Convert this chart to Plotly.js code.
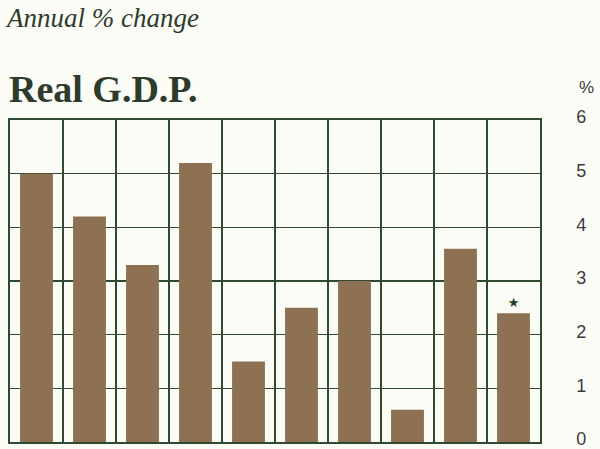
<!DOCTYPE html>
<html><head><meta charset="utf-8">
<script src="https://cdn.plot.ly/plotly-3.0.1.min.js"></script>
<style>html,body{margin:0;padding:0;background:#fdfdf8;}</style>
</head><body>
<div id="chart" style="width:600px;height:449px;"></div>
<script>
const periods = [1, 2, 3, 4, 5, 6, 7, 8, 9, 10];
const gdpChange = [5.0, 4.2, 3.3, 5.2, 1.5, 2.5, 3.0, 0.6, 3.6, 2.4];
const barNotes = ["", "", "", "", "", "", "", "", "", "★"];
const yTicks = [0, 1, 2, 3, 4, 5, 6];

const gridColor = "#2f4a30";
const trace = {
  type: "bar",
  x: periods,
  y: gdpChange,
  width: 0.62,
  marker: {color: "#8d7152", line: {width: 0}},
  text: barNotes,
  textposition: "outside",
  cliponaxis: false,
  textfont: {family: "DejaVu Sans", size: 13, color: "#2a3a2a"},
  hoverinfo: "y"
};

const layout = {
  width: 600, height: 449,
  margin: {l: 10, r: 60, t: 120, b: 7},
  paper_bgcolor: "#fdfdf8",
  plot_bgcolor: "#fdfdf8",
  showlegend: false,
  bargap: 0.38,
  xaxis: {
    range: [0.5, 10.5],
    tick0: 0.5, dtick: 1,
    showticklabels: false,
    ticks: "",
    showgrid: true, gridcolor: gridColor, gridwidth: 1.4,
    showline: true, linecolor: gridColor, linewidth: 1.6, mirror: true,
    zeroline: false, fixedrange: true
  },
  yaxis: {
    side: "right",
    range: [0, 6],
    tickvals: yTicks,
    ticks: "",
    ticklabelstandoff: 31,
    ticklabelshift: -3,
    ticklabeloverflow: "allow",
    tickfont: {family: "Liberation Sans", size: 18, color: "#3a3a3a"},
    showgrid: true, gridcolor: gridColor, gridwidth: 1.4,
    showline: true, linecolor: gridColor, linewidth: 1.6, mirror: true,
    zeroline: false, fixedrange: true
  },
  annotations: [
    {text: "<i>Annual % change</i>", xref: "paper", yref: "paper",
     x: -0.014, y: 1.317, xanchor: "left", yanchor: "middle", showarrow: false,
     font: {family: "Liberation Serif", size: 27, color: "#2d3b2d"}},
    {text: "<b>Real G.D.P.</b>", xref: "paper", yref: "paper",
     x: -0.005, y: 1.096, xanchor: "left", yanchor: "middle", showarrow: false,
     font: {family: "Liberation Serif", size: 38, color: "#2d3b2d"}},
    {text: "%", xref: "paper", yref: "paper",
     x: 1.088, y: 1.1, xanchor: "center", yanchor: "middle", showarrow: false,
     font: {family: "Liberation Sans", size: 17, color: "#3a3a3a"}}
  ]
};

Plotly.newPlot("chart", [trace], layout, {displayModeBar: false, staticPlot: true});
</script>
</body></html>
